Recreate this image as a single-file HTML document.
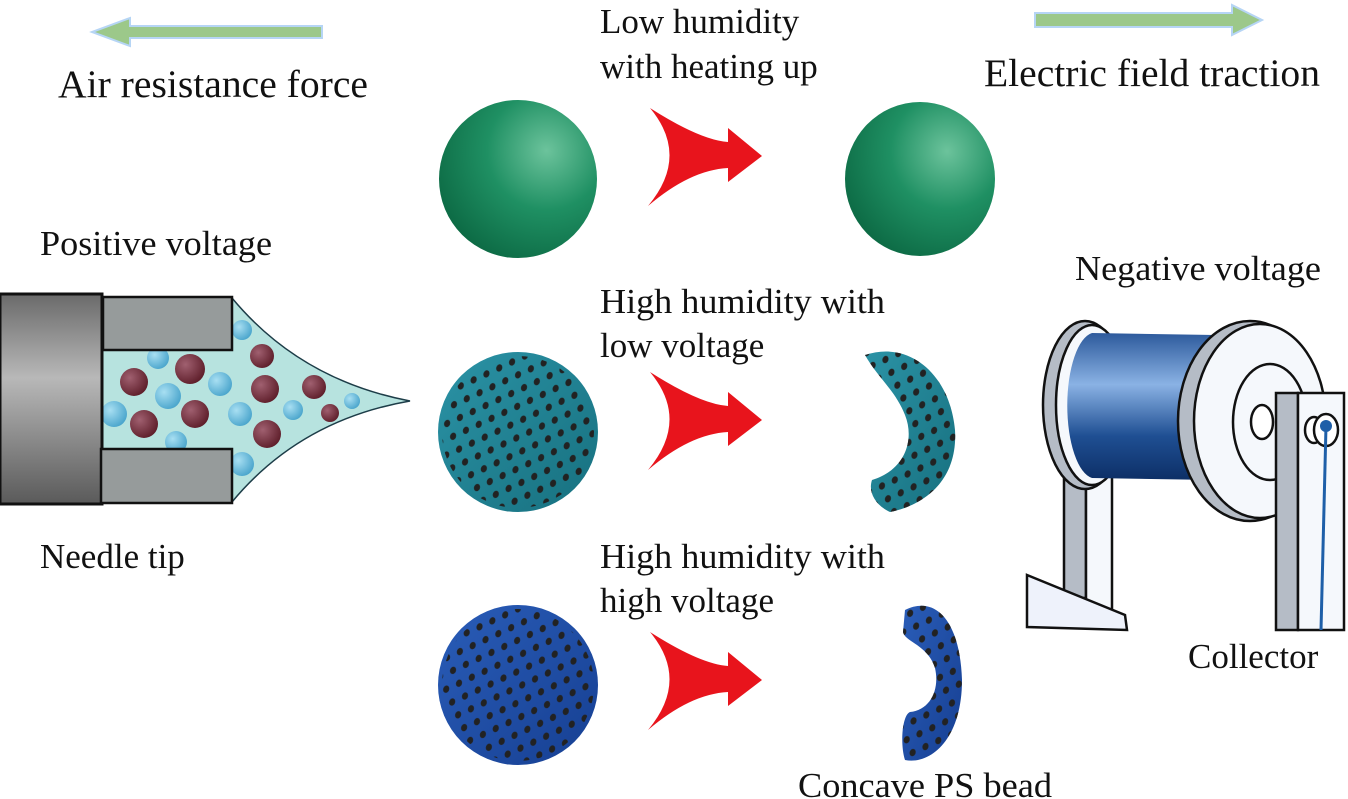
<!DOCTYPE html>
<html><head><meta charset="utf-8"><style>
html,body{margin:0;padding:0;background:#fff;}
svg{display:block}
text{font-family:"Liberation Serif",serif;fill:#111;}
</style></head><body>
<svg width="1348" height="799" viewBox="0 0 1348 799" xmlns="http://www.w3.org/2000/svg">
<defs>
<radialGradient id="gg" cx="0.68" cy="0.32" r="0.75"><stop offset="0" stop-color="#6cc39c"/><stop offset="0.5" stop-color="#1f9063"/><stop offset="1" stop-color="#0d6b45"/></radialGradient>
<linearGradient id="tg" x1="0" y1="0" x2="1" y2="1"><stop offset="0" stop-color="#2b93a6"/><stop offset="1" stop-color="#17707f"/></linearGradient>
<linearGradient id="bg" x1="0" y1="0" x2="1" y2="1"><stop offset="0" stop-color="#2a5db8"/><stop offset="1" stop-color="#163f92"/></linearGradient>
<pattern id="dots" width="20" height="20" patternUnits="userSpaceOnUse" patternTransform="rotate(20)"><ellipse cx="5" cy="5" rx="3" ry="3.8" fill="#222"/><ellipse cx="15" cy="15" rx="3" ry="3.8" fill="#222"/></pattern>
<linearGradient id="barrel" x1="0" y1="0" x2="0" y2="1"><stop offset="0" stop-color="#6a6a6a"/><stop offset="0.4" stop-color="#b8b8b8"/><stop offset="1" stop-color="#5a5a5a"/></linearGradient>
<linearGradient id="drum" x1="0" y1="0" x2="0" y2="1"><stop offset="0" stop-color="#2d5a9c"/><stop offset="0.35" stop-color="#8ab2e4"/><stop offset="0.7" stop-color="#1f4f93"/><stop offset="1" stop-color="#0d2f66"/></linearGradient>
<radialGradient id="red" cx="0.35" cy="0.35" r="0.7"><stop offset="0" stop-color="#a06070"/><stop offset="1" stop-color="#5e1e2a"/></radialGradient>
<radialGradient id="blu" cx="0.35" cy="0.35" r="0.7"><stop offset="0" stop-color="#a8dff2"/><stop offset="1" stop-color="#4aa5cc"/></radialGradient>
</defs>

<polygon points="322,26 130,26 130,18 92,32 130,46 130,38 322,38" fill="#9cc88a" stroke="#b6d5f5" stroke-width="2"/>
<polygon points="1035,13 1232,13 1232,5 1262,20 1232,35 1232,27 1035,27" fill="#9cc88a" stroke="#b6d5f5" stroke-width="2"/>

<text x="58" y="97" font-size="39" textLength="310" lengthAdjust="spacingAndGlyphs">Air resistance force</text>
<text x="984" y="86" font-size="39" textLength="336" lengthAdjust="spacingAndGlyphs">Electric field traction</text>
<text x="600" y="33" font-size="35">Low humidity</text>
<text x="600" y="78" font-size="35">with heating up</text>
<text x="40" y="255" font-size="35" textLength="232" lengthAdjust="spacingAndGlyphs">Positive voltage</text>
<text x="1075" y="280" font-size="35" textLength="246" lengthAdjust="spacingAndGlyphs">Negative voltage</text>
<text x="600" y="313" font-size="35" textLength="285" lengthAdjust="spacingAndGlyphs">High humidity with</text>
<text x="600" y="357" font-size="35">low voltage</text>
<text x="40" y="568" font-size="35">Needle tip</text>
<text x="600" y="568" font-size="35" textLength="285" lengthAdjust="spacingAndGlyphs">High humidity with</text>
<text x="600" y="612" font-size="35">high voltage</text>
<text x="1188" y="668" font-size="35">Collector</text>
<text x="798" y="797" font-size="35" textLength="254" lengthAdjust="spacingAndGlyphs">Concave PS bead</text>

<ellipse cx="518" cy="179" rx="79" ry="79" fill="url(#gg)"/>
<ellipse cx="920" cy="179" rx="75" ry="77" fill="url(#gg)"/>
<ellipse cx="518" cy="432" rx="80" ry="80" fill="url(#tg)"/>
<ellipse cx="518" cy="432" rx="76" ry="76" fill="url(#dots)"/>
<ellipse cx="518" cy="685" rx="80" ry="80" fill="url(#bg)"/>
<ellipse cx="518" cy="685" rx="76" ry="76" fill="url(#dots)"/>

<path d="M865,355 C910,340 950,375 955,430 C958,480 925,505 890,512 C875,505 868,492 872,480 C905,470 915,440 905,415 C895,390 878,378 865,355 Z" fill="url(#tg)"/>
<path d="M865,355 C910,340 950,375 955,430 C958,480 925,505 890,512 C875,505 868,492 872,480 C905,470 915,440 905,415 C895,390 878,378 865,355 Z" fill="url(#dots)"/>
<path d="M905,610 C935,595 960,620 962,680 C962,740 930,765 905,760 C900,745 902,715 910,712 C930,710 940,690 935,668 C928,645 905,642 903,632 Z" fill="url(#bg)"/>
<path d="M905,610 C935,595 960,620 962,680 C962,740 930,765 905,760 C900,745 902,715 910,712 C930,710 940,690 935,668 C928,645 905,642 903,632 Z" fill="url(#dots)"/>

<g fill="#e8141c">
<path d="M650,108 Q700,140 728,142 L728,128 L762,156 L728,182 L728,168 Q690,170 648,206 Q690,156 650,108 Z"/>
<path d="M650,372 Q700,404 728,406 L728,392 L762,420 L728,446 L728,432 Q690,434 648,470 Q690,420 650,372 Z"/>
<path d="M650,632 Q700,664 728,666 L728,652 L762,680 L728,706 L728,692 Q690,694 648,730 Q690,680 650,632 Z"/>
</g>

<path d="M100,298 L232,298 Q300,380 410,401 Q300,420 232,502 L100,502 Z" fill="#b7e3df" stroke="#1d3d48" stroke-width="1.5"/>
<g>
<circle cx="158" cy="358" r="11" fill="url(#blu)"/><circle cx="134" cy="382" r="14" fill="url(#red)"/>
<circle cx="168" cy="396" r="13" fill="url(#blu)"/><circle cx="144" cy="424" r="14" fill="url(#red)"/>
<circle cx="114" cy="414" r="13" fill="url(#blu)"/><circle cx="190" cy="369" r="15" fill="url(#red)"/>
<circle cx="195" cy="414" r="14" fill="url(#red)"/><circle cx="176" cy="442" r="11" fill="url(#blu)"/>
<circle cx="220" cy="384" r="12" fill="url(#blu)"/><circle cx="242" cy="330" r="10" fill="url(#blu)"/>
<circle cx="262" cy="356" r="12" fill="url(#red)"/><circle cx="265" cy="389" r="14" fill="url(#red)"/>
<circle cx="240" cy="414" r="12" fill="url(#blu)"/><circle cx="267" cy="434" r="14" fill="url(#red)"/>
<circle cx="293" cy="410" r="10" fill="url(#blu)"/><circle cx="314" cy="387" r="12" fill="url(#red)"/>
<circle cx="330" cy="413" r="9" fill="url(#red)"/><circle cx="352" cy="401" r="8" fill="url(#blu)"/>
<circle cx="242" cy="464" r="12" fill="url(#blu)"/>
</g>
<rect x="0" y="294" width="102" height="210" fill="url(#barrel)" stroke="#111" stroke-width="3"/>
<rect x="103" y="297" width="129" height="53" fill="#969b9b" stroke="#111" stroke-width="2.5"/>
<rect x="101" y="449" width="131" height="54" fill="#969b9b" stroke="#111" stroke-width="2.5"/>

<!-- collector -->
<g stroke="#111" stroke-width="2.5">
<rect x="1064" y="470" width="22" height="128" fill="#b5bcc6"/>
<rect x="1086" y="470" width="26" height="140" fill="#f5f8fc"/>
<polygon points="1027,575 1125,615 1127,630 1027,627" fill="#eef2fb"/>
<ellipse cx="1085" cy="405" rx="42" ry="84" fill="#b5bcc6"/>
<ellipse cx="1092" cy="405" rx="36" ry="80" fill="#f5f8fc"/>
<path d="M1092,333 L1215,335 L1215,480 L1092,478 A28,73 0 0 1 1092,333 Z" fill="url(#drum)" stroke="none"/>
<ellipse cx="1250" cy="421" rx="72" ry="100" fill="#b5bcc6"/>
<ellipse cx="1260" cy="421" rx="66" ry="97" fill="#f5f8fc"/>
<ellipse cx="1270" cy="422" rx="37" ry="58" fill="#f5f8fc"/>
<ellipse cx="1262" cy="422" rx="11" ry="17" fill="#fff"/>
<rect x="1276" y="393" width="22" height="237" fill="#b5bcc6"/>
<rect x="1298" y="393" width="46" height="237" fill="#f5f8fc"/>
<ellipse cx="1314" cy="430" rx="9" ry="13" fill="#fff"/>
<ellipse cx="1326" cy="430" rx="12" ry="16" fill="#fff"/>
</g>
<circle cx="1326" cy="426" r="6" fill="#1e5fa8"/>
<line x1="1326" y1="426" x2="1321" y2="630" stroke="#1e5fa8" stroke-width="3"/>
</svg>
</body></html>
